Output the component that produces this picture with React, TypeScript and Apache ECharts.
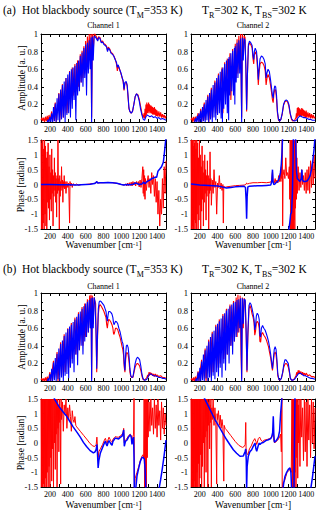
import React, { useEffect, useRef } from "react";
import * as echarts from "echarts";

const FONT = "'Liberation Serif', 'Times New Roman', serif";
const RED = "#ff0000";
const BLUE = "#0000ff";

// ---------- (a) amplitude, channel 1 ----------
const ampA1Red = [
  [100,0.02],[110,0.05],[120,0.01],[130,0.05],[140,0.0],[150,0.06],[160,0.01],[170,0.07],[180,0.0],[190,0.08],[200,0.02],[220,0.12],[230,0.0],[260,0.22],[270,0.0],[300,0.33],[310,0.02],[340,0.43],[350,0.05],[380,0.5],[390,0.1],[420,0.58],[430,0.2],[450,0.62],[460,0.3],[480,0.66],[490,0.35],[510,0.7],[520,0.4],[540,0.77],[550,0.45],[560,0.81],[570,0.5],[580,0.86],[590,0.55],[600,0.92],[610,0.6],[620,0.97],[630,0.65],[640,1.0],[650,0.7],[660,1.0],[667,0.05],[675,1.0],[685,0.8],[695,1.0],
  [705,1.0],[720,0.97],[735,0.93],[745,0.97],[760,0.96],[775,0.91],[790,0.92],[805,0.89],[820,0.88],[835,0.86],[845,0.81],[855,0.85],[870,0.83],[885,0.79],[900,0.78],[915,0.75],[930,0.72],[945,0.66],[955,0.58],[965,0.64],[980,0.6],[995,0.55],[1010,0.5],[1020,0.46],[1030,0.36],[1040,0.44],[1055,0.45],[1065,0.41],[1075,0.28],[1085,0.15],[1095,0.12],[1110,0.1],[1125,0.12],[1140,0.2],[1155,0.29],[1170,0.32],[1185,0.31],[1200,0.26],[1215,0.18],[1230,0.1],[1245,0.05],
  [1255,0.1],[1260,0.04],[1265,0.15],[1270,0.05],[1275,0.2],[1280,0.08],[1285,0.22],[1290,0.1],[1295,0.2],[1300,0.1],[1305,0.22],[1310,0.12],[1315,0.2],[1320,0.1],[1330,0.19],[1335,0.1],[1340,0.18],[1345,0.09],[1350,0.17],[1355,0.08],[1360,0.16],[1365,0.09],[1370,0.17],[1375,0.08],[1380,0.15],[1385,0.07],[1390,0.14],[1395,0.07],[1400,0.13],[1410,0.06],[1420,0.12],[1430,0.06],[1440,0.11],[1450,0.05],[1460,0.09],[1470,0.05],[1480,0.08],[1490,0.04],[1500,0.07],
];
const ampA1Blue = [
  [170,0.0],[180,0.03],[190,0.0],[200,0.06],[210,0.0],[220,0.1],[230,0.0],[240,0.17],[250,0.01],[260,0.21],[270,0.0],[280,0.27],[290,0.02],[300,0.32],[310,0.0],[320,0.37],[330,0.03],[340,0.42],[350,0.05],[360,0.46],[370,0.0],[380,0.5],[390,0.08],[400,0.54],[410,0.1],[420,0.57],[430,0.05],[440,0.6],[450,0.15],[460,0.62],[470,0.25],[480,0.64],[490,0.02],[500,0.67],[510,0.3],[520,0.7],[530,0.35],[540,0.75],[550,0.45],[560,0.79],[570,0.4],[580,0.84],[590,0.5],[600,0.88],[610,0.3],[620,0.9],[630,0.55],[640,0.93],[650,0.6],[660,0.96],[667,0.0],[675,0.97],[685,0.7],[695,0.97],
  [705,0.97],[720,0.95],[735,0.92],[745,0.96],[760,0.95],[775,0.9],[790,0.91],[805,0.88],[820,0.87],[835,0.85],[845,0.8],[855,0.84],[870,0.82],[885,0.78],[900,0.77],[915,0.75],[930,0.71],[945,0.68],[955,0.62],[965,0.65],[980,0.6],[995,0.56],[1010,0.5],[1020,0.47],[1030,0.37],[1040,0.45],[1055,0.46],[1065,0.42],[1075,0.3],[1085,0.16],[1095,0.12],[1110,0.1],[1125,0.12],[1140,0.2],[1155,0.29],[1170,0.32],[1185,0.3],[1200,0.24],[1215,0.15],[1230,0.08],[1245,0.03],[1260,0.02],[1275,0.06],[1290,0.08],[1305,0.07],[1320,0.06],[1340,0.07],[1360,0.05],[1380,0.06],[1400,0.04],[1420,0.05],[1440,0.03],[1460,0.04],[1480,0.03],[1500,0.02],
];

// ---------- (a) amplitude, channel 2 ----------
const ampA2Red = [
  [100,0.02],[110,0.05],[120,0.0],[130,0.06],[140,0.0],[150,0.06],[160,0.01],[180,0.1],[190,0.0],[210,0.15],[220,0.0],[250,0.22],[260,0.02],[290,0.31],[300,0.0],[330,0.39],[340,0.05],[370,0.47],[380,0.1],[410,0.55],[420,0.2],[450,0.62],[460,0.1],[480,0.68],[490,0.3],[510,0.72],[520,0.35],[540,0.78],[550,0.25],[570,0.83],[580,0.4],[600,0.89],[610,0.5],[620,0.94],[630,0.55],[640,0.98],[650,0.6],[660,1.0],[672,0.05],[680,1.0],[690,0.75],[700,0.98],
  [710,0.96],[720,0.6],[728,0.12],[736,0.5],[748,0.86],[760,0.9],[775,0.88],[790,0.84],[800,0.72],[808,0.66],[815,0.76],[825,0.8],[840,0.76],[850,0.62],[860,0.42],[868,0.55],[880,0.66],[895,0.68],[910,0.67],[925,0.64],[938,0.58],[948,0.42],[958,0.5],[970,0.54],[985,0.5],[998,0.42],[1010,0.33],[1020,0.25],[1028,0.22],[1036,0.32],[1046,0.37],[1056,0.36],[1066,0.26],[1076,0.1],[1088,0.02],[1100,0.01],[1115,0.03],[1130,0.09],[1145,0.19],[1160,0.23],[1175,0.24],[1190,0.23],[1205,0.18],[1220,0.09],[1235,0.03],[1250,0.01],[1270,0.02],[1285,0.05],
  [1290,0.1],[1295,0.04],[1300,0.16],[1305,0.06],[1310,0.17],[1315,0.07],[1320,0.16],[1325,0.06],[1330,0.15],[1335,0.07],[1340,0.14],[1345,0.06],[1350,0.16],[1355,0.07],[1360,0.15],[1365,0.07],[1370,0.14],[1375,0.06],[1380,0.13],[1385,0.06],[1390,0.12],[1395,0.05],[1400,0.13],[1410,0.05],[1420,0.11],[1430,0.05],[1440,0.1],[1450,0.04],[1460,0.09],[1470,0.04],[1480,0.08],[1490,0.04],[1500,0.06],
];
const ampA2Blue = [
  [140,0.0],[150,0.04],[160,0.0],[170,0.07],[180,0.0],[190,0.1],[200,0.0],[210,0.13],[220,0.0],[230,0.17],[240,0.01],[250,0.2],[260,0.0],[270,0.25],[280,0.02],[290,0.29],[300,0.0],[310,0.33],[320,0.03],[330,0.37],[340,0.0],[350,0.42],[360,0.05],[370,0.45],[380,0.02],[390,0.5],[400,0.08],[410,0.53],[420,0.1],[430,0.57],[440,0.04],[450,0.6],[455,0.0],[460,0.62],[470,0.15],[480,0.66],[490,0.2],[500,0.7],[510,0.1],[520,0.72],[525,0.02],[530,0.74],[540,0.3],[550,0.78],[560,0.35],[570,0.81],[580,0.3],[590,0.84],[595,0.2],[600,0.86],[610,0.45],[620,0.9],[630,0.5],[640,0.93],[650,0.55],[660,0.95],[672,0.0],[680,0.96],[690,0.7],[700,0.95],
  [710,0.93],[720,0.6],[728,0.14],[736,0.5],[748,0.88],[760,0.92],[775,0.9],[790,0.87],[800,0.75],[808,0.71],[815,0.8],[825,0.84],[840,0.8],[850,0.68],[860,0.48],[868,0.6],[880,0.72],[895,0.75],[910,0.74],[925,0.71],[938,0.66],[948,0.5],[958,0.56],[970,0.6],[985,0.57],[998,0.48],[1010,0.38],[1020,0.3],[1028,0.27],[1036,0.36],[1046,0.41],[1056,0.4],[1066,0.3],[1076,0.12],[1088,0.03],[1100,0.01],[1115,0.03],[1130,0.1],[1145,0.2],[1160,0.24],[1175,0.25],[1190,0.24],[1205,0.2],[1220,0.1],[1235,0.04],[1250,0.02],[1270,0.01],[1290,0.02],[1310,0.05],[1330,0.07],[1350,0.06],[1370,0.05],[1390,0.05],[1410,0.04],[1430,0.03],[1450,0.03],[1470,0.02],[1500,0.02],
];

// ---------- (a) phase, channel 1 ----------
const phaseA1Red = [
  [100,1.5],[105,-1.5],[110,1.4],[115,-1.5],[120,1.5],[125,-1.3],[130,1.2],[135,-1.5],[140,1.5],[145,-1.0],[150,1.3],[155,-1.4],[160,0.9],[165,-1.5],[170,1.1],[175,-0.6],[180,1.4],[185,-0.8],[190,0.6],[195,-1.2],[200,1.0],[205,-0.5],[210,0.4],[215,-0.9],[220,1.2],[225,-0.3],[230,0.5],[235,-1.4],[240,0.3],[245,-0.4],[250,0.9],[255,-0.2],[260,0.4],[265,-0.6],[270,0.2],[275,-1.1],[280,0.3],[285,-0.3],[290,1.5],[295,-0.2],[300,0.2],[305,-1.5],[310,0.3],[315,-0.4],[320,0.1],[325,-0.2],[330,0.6],[335,-0.1],[340,0.15],[345,-0.6],[350,0.1],[355,-0.1],[360,0.3],[365,-0.15],[370,0.1],[380,-0.3],[390,0.1],[400,-0.1],[410,0.05],[420,-1.3],[425,0.1],[430,-0.05],[440,0.05],[450,-0.1],[460,0.03],[480,-0.03],[500,0.02],[520,-0.03],[550,0.0],[600,0.0],[650,0.02],[700,0.04],[715,0.06],[725,0.1],[735,0.05],[760,0.06],[800,0.06],[850,0.07],[900,0.06],[950,0.04],[1000,0.0],[1030,-0.02],[1050,0.02],[1060,-0.05],[1070,0.05],[1080,-0.04],[1090,0.06],[1100,-0.03],[1110,0.08],[1120,-0.05],[1130,0.1],[1140,-0.02],[1150,0.08],[1160,-0.05],[1170,0.1],[1180,0.0],[1190,0.1],[1200,-0.08],[1210,0.15],[1220,-0.1],[1230,0.2],[1240,0.6],[1245,-0.3],[1250,0.5],[1255,-0.4],[1260,0.3],[1265,-0.5],[1270,0.2],[1280,-0.2],[1290,0.1],[1300,0.3],[1310,-0.1],[1320,0.2],[1330,-0.3],[1340,0.4],[1350,0.0],[1360,0.3],[1370,-0.4],[1380,0.2],[1390,-0.6],[1400,0.1],[1410,-1.0],[1420,-0.2],[1430,-1.4],[1440,-0.5],[1450,-1.0],[1460,0.2],[1470,-0.8],[1480,0.6],[1490,-0.3],[1500,0.8],
];
const phaseA1Blue = [
  [100,0.0],[200,0.0],[300,-0.01],[400,-0.01],[500,-0.02],[600,0.0],[650,0.01],[700,0.03],[715,0.06],[725,0.1],[735,0.05],[760,0.06],[800,0.06],[850,0.07],[900,0.06],[950,0.04],[1000,0.0],[1030,-0.02],[1060,0.0],[1100,-0.01],[1130,0.01],[1160,0.05],[1180,0.03],[1200,0.0],[1230,0.02],[1250,0.08],[1265,0.02],[1280,0.08],[1300,0.12],[1320,0.15],[1340,0.2],[1360,0.22],[1380,0.25],[1395,0.24],[1410,0.45],[1430,0.52],[1450,0.6],[1470,0.75],[1480,1.0],[1490,1.3],[1500,1.6],
];

// ---------- (a) phase, channel 2 ----------
const phaseA2Red = [
  [100,1.5],[104,-1.5],[108,1.5],[112,-1.4],[116,1.5],[120,-1.5],[124,1.3],[128,-1.5],[132,1.5],[136,-1.2],[140,1.4],[144,-1.5],[148,1.5],[152,-1.3],[156,1.2],[160,-1.5],[165,1.5],[170,-1.0],[175,1.4],[180,-1.5],[185,0.9],[190,-1.2],[195,1.5],[200,-0.7],[205,1.0],[210,-1.5],[215,0.6],[220,-0.9],[225,1.3],[230,-0.5],[235,0.8],[240,-1.4],[245,0.4],[250,-0.6],[255,1.0],[260,-0.3],[265,0.5],[270,-1.2],[275,0.3],[280,-0.4],[285,0.8],[290,-0.2],[295,0.3],[300,-1.5],[305,0.2],[310,-0.3],[315,1.1],[320,-0.2],[325,0.2],[330,-0.7],[340,0.15],[350,-0.3],[360,0.5],[370,-0.1],[380,0.1],[390,-1.0],[400,0.05],[410,-0.1],[420,0.3],[430,-0.15],[440,0.05],[450,-0.2],[460,0.0],[465,-1.3],[470,-0.05],[480,-0.1],[500,-0.08],[550,-0.06],[600,-0.04],[650,-0.03],[700,-0.02],[720,0.0],[728,0.05],[740,0.02],[760,0.04],[800,0.06],[850,0.06],[900,0.07],[950,0.06],[1000,0.08],[1010,0.15],[1020,0.45],[1026,0.1],[1040,0.05],[1050,0.2],[1060,0.05],[1070,0.15],[1080,0.05],[1090,0.3],[1100,0.1],[1110,0.4],[1115,0.1],[1120,0.6],[1125,0.2],[1130,1.5],[1135,-1.4],[1140,0.3],[1150,0.5],[1160,0.2],[1170,0.9],[1180,0.3],[1190,0.4],[1200,0.2],[1210,0.6],[1215,-0.5],[1220,1.5],[1224,-1.5],[1228,1.5],[1232,-1.5],[1236,1.5],[1240,-1.5],[1244,1.5],[1248,-1.5],[1252,1.5],[1256,-1.5],[1260,1.5],[1264,-1.2],[1268,1.5],[1272,-1.5],[1276,1.2],[1280,-0.8],[1285,1.5],[1290,-0.5],[1295,0.9],[1300,-0.3],[1310,0.6],[1320,-0.2],[1330,0.4],[1340,-0.1],[1350,0.5],[1360,0.0],[1370,0.3],[1380,-0.2],[1390,0.4],[1400,-0.3],[1410,0.5],[1420,-0.2],[1430,0.6],[1440,-0.3],[1450,0.8],[1460,-0.1],[1470,0.7],[1480,0.0],[1490,1.0],[1500,0.2],
];
const phaseA2Blue = [
  [100,0.02],[150,0.0],[200,-0.02],[300,-0.03],[400,-0.05],[450,-0.08],[500,-0.12],[550,-0.1],[600,-0.08],[650,-0.07],[700,-0.06],[715,-0.1],[722,-0.5],[728,-1.15],[734,-0.4],[742,-0.08],[760,-0.06],[800,-0.05],[850,-0.04],[900,-0.04],[950,-0.03],[1000,-0.02],[1012,0.1],[1020,0.5],[1026,0.1],[1035,0.0],[1050,0.02],[1065,0.08],[1080,0.1],[1095,0.2],[1110,0.4],[1120,0.7],[1128,1.1],[1134,1.6],[1140,null],[1200,-1.6],[1215,-1.3],[1225,-1.0],[1235,-0.95],[1245,-0.3],[1252,0.8],[1256,1.6],[1260,null],[1280,1.6],[1290,0.5],[1300,0.2],[1315,0.15],[1330,0.1],[1345,0.2],[1352,0.5],[1358,0.15],[1370,0.1],[1390,0.1],[1410,0.12],[1430,0.2],[1445,0.3],[1460,0.5],[1475,0.8],[1490,1.2],[1500,1.6],
];

// ---------- (b) amplitude, channel 1 ----------
const ampB1Red = [
  [100,0.01],[110,0.03],[120,0.0],[130,0.03],[140,0.0],[150,0.04],[160,0.0],[170,0.05],[180,0.0],[200,0.1],[210,0.0],[240,0.23],[250,0.02],[280,0.33],[290,0.0],[320,0.44],[330,0.05],[360,0.53],[370,0.1],[400,0.6],[410,0.15],[440,0.66],[450,0.25],[480,0.72],[490,0.3],[520,0.78],[530,0.35],[560,0.84],[570,0.4],[590,0.88],[600,0.5],[620,0.93],[630,0.55],[645,0.97],[655,0.6],[660,0.98],[667,0.02],[675,0.97],[685,0.65],[695,0.95],[705,0.9],
  [712,0.88],[718,0.45],[724,0.1],[732,0.45],[742,0.76],[752,0.85],[762,0.87],[775,0.85],[790,0.82],[805,0.79],[818,0.75],[828,0.72],[836,0.64],[843,0.6],[850,0.66],[858,0.7],[870,0.69],[882,0.67],[895,0.64],[905,0.6],[912,0.54],[918,0.53],[926,0.56],[935,0.6],[948,0.6],[960,0.58],[972,0.54],[985,0.5],[998,0.44],[1008,0.39],[1016,0.36],[1024,0.3],[1032,0.16],[1040,0.1],[1048,0.24],[1056,0.32],[1066,0.32],[1076,0.3],[1086,0.22],[1096,0.1],[1106,0.05],[1118,0.04],[1130,0.04],[1142,0.1],[1155,0.16],[1168,0.19],[1180,0.2],[1192,0.19],[1205,0.17],[1218,0.12],[1230,0.06],[1242,0.02],[1256,0.01],[1270,0.02],[1285,0.04],[1295,0.07],[1300,0.04],[1310,0.1],[1315,0.06],[1320,0.1],[1330,0.07],[1340,0.09],[1350,0.06],[1360,0.08],[1370,0.05],[1380,0.08],[1390,0.05],[1400,0.07],[1420,0.05],[1440,0.06],[1460,0.04],[1480,0.04],[1500,0.03],
];
const ampB1Blue = [
  [170,0.0],[180,0.03],[190,0.0],[200,0.08],[210,0.0],[220,0.14],[230,0.0],[240,0.21],[250,0.01],[260,0.26],[270,0.0],[280,0.31],[290,0.02],[300,0.37],[310,0.0],[320,0.42],[330,0.04],[340,0.46],[350,0.0],[360,0.51],[370,0.06],[380,0.55],[390,0.08],[400,0.59],[410,0.03],[420,0.62],[430,0.15],[440,0.64],[450,0.2],[460,0.67],[470,0.1],[480,0.7],[490,0.3],[500,0.73],[510,0.18],[520,0.76],[530,0.35],[540,0.79],[550,0.4],[560,0.82],[570,0.3],[580,0.85],[590,0.45],[600,0.88],[610,0.5],[620,0.9],[630,0.55],[640,0.92],[650,0.6],[660,0.94],[667,0.0],[675,0.95],[685,0.6],[695,0.95],[705,0.9],
  [712,0.9],[718,0.5],[724,0.14],[732,0.5],[742,0.82],[752,0.9],[762,0.91],[775,0.9],[790,0.88],[805,0.86],[818,0.82],[828,0.79],[836,0.72],[843,0.68],[850,0.74],[858,0.79],[870,0.79],[882,0.78],[895,0.76],[905,0.72],[912,0.66],[918,0.64],[926,0.66],[935,0.68],[948,0.67],[960,0.65],[972,0.6],[985,0.56],[998,0.5],[1008,0.45],[1016,0.43],[1024,0.38],[1032,0.2],[1040,0.12],[1048,0.3],[1056,0.4],[1066,0.41],[1076,0.38],[1086,0.28],[1096,0.14],[1106,0.06],[1118,0.04],[1130,0.05],[1142,0.12],[1155,0.2],[1168,0.25],[1180,0.27],[1192,0.26],[1205,0.24],[1218,0.17],[1230,0.08],[1242,0.03],[1256,0.01],[1270,0.01],[1285,0.02],[1300,0.05],[1315,0.08],[1330,0.08],[1345,0.07],[1360,0.06],[1380,0.06],[1400,0.05],[1420,0.04],[1440,0.04],[1460,0.03],[1480,0.03],[1500,0.02],
];

// ---------- (b) amplitude, channel 2 ----------
const ampB2Red = [
  [100,0.01],[110,0.03],[120,0.0],[130,0.04],[140,0.0],[150,0.05],[160,0.0],[180,0.11],[190,0.0],[220,0.24],[230,0.02],[260,0.37],[270,0.0],[300,0.47],[310,0.05],[340,0.56],[350,0.1],[380,0.64],[390,0.15],[420,0.7],[430,0.2],[460,0.76],[470,0.25],[500,0.82],[510,0.3],[540,0.87],[550,0.4],[580,0.91],[590,0.45],[610,0.95],[620,0.5],[630,0.98],[640,0.55],[655,0.97],[665,0.3],[672,0.02],[680,0.95],[690,0.6],[700,0.94],[712,0.9],
  [722,0.55],[732,0.1],[742,0.5],[755,0.82],[766,0.86],[778,0.82],[790,0.76],[802,0.72],[812,0.66],[820,0.52],[828,0.56],[838,0.66],[848,0.68],[860,0.66],[870,0.6],[878,0.45],[886,0.44],[895,0.53],[908,0.55],[922,0.52],[936,0.5],[950,0.47],[962,0.43],[975,0.39],[988,0.32],[1000,0.26],[1010,0.18],[1020,0.12],[1030,0.22],[1040,0.31],[1050,0.33],[1060,0.3],[1070,0.2],[1080,0.06],[1092,0.02],[1105,0.01],[1120,0.03],[1135,0.09],[1148,0.16],[1160,0.19],[1172,0.2],[1185,0.19],[1198,0.16],[1210,0.1],[1222,0.03],[1236,0.01],[1252,0.01],[1270,0.03],[1285,0.06],[1295,0.1],[1300,0.06],[1310,0.12],[1315,0.08],[1320,0.12],[1330,0.08],[1340,0.11],[1350,0.07],[1360,0.1],[1370,0.07],[1380,0.09],[1390,0.06],[1400,0.09],[1420,0.06],[1440,0.07],[1460,0.05],[1480,0.05],[1500,0.04],
];
const ampB2Blue = [
  [150,0.0],[160,0.03],[170,0.0],[180,0.1],[190,0.0],[200,0.15],[210,0.0],[220,0.22],[230,0.01],[240,0.3],[250,0.0],[260,0.35],[270,0.03],[280,0.4],[290,0.0],[300,0.45],[310,0.04],[320,0.5],[330,0.0],[340,0.54],[350,0.06],[360,0.57],[370,0.02],[380,0.62],[390,0.1],[400,0.65],[410,0.05],[420,0.68],[430,0.15],[440,0.71],[450,0.04],[460,0.74],[470,0.2],[480,0.77],[490,0.12],[500,0.8],[510,0.3],[520,0.82],[530,0.2],[540,0.85],[550,0.4],[560,0.87],[570,0.3],[580,0.89],[590,0.45],[600,0.9],[610,0.5],[620,0.92],[630,0.55],[640,0.93],[650,0.6],[660,0.94],[672,0.0],[680,0.94],[690,0.65],[700,0.93],[712,0.92],
  [722,0.6],[732,0.12],[742,0.55],[755,0.86],[766,0.89],[778,0.87],[790,0.82],[802,0.76],[812,0.7],[820,0.58],[828,0.62],[838,0.74],[848,0.77],[860,0.75],[870,0.7],[878,0.52],[886,0.5],[895,0.6],[908,0.63],[922,0.6],[936,0.58],[950,0.54],[962,0.5],[975,0.45],[988,0.38],[1000,0.3],[1010,0.22],[1020,0.14],[1030,0.25],[1040,0.36],[1050,0.39],[1060,0.36],[1070,0.25],[1080,0.08],[1092,0.02],[1105,0.01],[1120,0.03],[1135,0.1],[1148,0.19],[1160,0.24],[1172,0.24],[1185,0.22],[1198,0.2],[1210,0.12],[1222,0.03],[1236,0.01],[1252,0.01],[1270,0.02],[1290,0.05],[1310,0.08],[1330,0.09],[1350,0.08],[1370,0.06],[1390,0.06],[1410,0.05],[1430,0.04],[1450,0.03],[1470,0.03],[1500,0.02],
];

// ---------- (b) phase, channel 1 ----------
const phaseB1Red = [
  [100,1.5],[104,-1.5],[108,1.5],[112,-1.5],[116,1.5],[120,-1.5],[124,1.5],[128,-1.4],[132,1.5],[136,-1.5],[140,1.5],[144,-1.5],[148,1.5],[152,-1.2],[156,1.5],[160,-1.5],[165,1.5],[170,-1.0],[175,1.5],[180,-1.5],[185,1.5],[190,-0.8],[195,1.5],[200,-1.5],[205,1.5],[210,-0.5],[215,1.5],[220,-1.3],[225,1.5],[230,-0.2],[235,1.5],[240,-1.5],[245,1.5],[250,0.0],[255,1.5],[260,-0.9],[265,1.5],[270,0.3],[275,1.5],[280,-1.5],[285,1.5],[290,0.5],[295,1.3],[300,-0.3],[305,1.5],[310,0.7],[315,1.2],[320,-1.4],[325,1.5],[330,0.8],[340,1.4],[350,0.4],[360,1.3],[370,1.0],[380,1.5],[390,0.5],[400,1.2],[410,0.8],[420,1.3],[430,0.9],[440,0.4],[450,1.1],[460,0.8],[470,0.7],[480,0.9],[490,0.6],[500,0.55],[540,0.4],[580,0.25],[620,0.1],[650,-0.02],[680,-0.1],[700,-0.12],[718,-0.05],[726,0.2],[732,-0.1],[740,-0.5],[748,-0.3],[765,-0.2],[790,-0.05],[810,0.1],[821,0.16],[832,0.05],[840,0.0],[850,0.1],[862,0.2],[877,0.1],[888,0.05],[896,0.02],[905,0.12],[920,0.18],[933,0.22],[950,0.2],[970,0.2],[990,0.25],[1007,0.28],[1020,0.38],[1026,0.5],[1033,0.0],[1045,0.1],[1063,0.15],[1080,0.25],[1100,0.3],[1110,0.25],[1119,0.05],[1128,0.2],[1137,0.3],[1142,1.6],[1146,-1.6],[1155,-1.2],[1175,-1.0],[1195,-0.8],[1212,-0.6],[1230,-0.45],[1242,-0.4],[1250,-0.5],[1255,1.5],[1260,-1.5],[1265,1.5],[1270,-1.5],[1275,1.5],[1280,-1.5],[1285,1.5],[1290,-0.5],[1295,1.5],[1300,0.2],[1310,1.4],[1320,0.4],[1330,1.5],[1340,0.6],[1350,1.2],[1360,0.3],[1370,1.5],[1380,0.5],[1390,1.3],[1400,0.2],[1410,1.5],[1420,0.6],[1430,1.1],[1440,0.1],[1450,1.4],[1460,0.5],[1470,1.2],[1480,0.3],[1490,1.0],[1500,0.6],
];
const phaseB1Blue = [
  [200,2.2],[238,1.6],[260,1.45],[300,1.25],[350,1.05],[388,0.91],[420,0.75],[460,0.55],[500,0.38],[540,0.2],[575,0.02],[610,-0.12],[650,-0.26],[687,-0.34],[705,-0.3],[718,-0.22],[726,-0.05],[732,-0.3],[740,-0.85],[748,-0.6],[765,-0.34],[790,-0.15],[810,0.0],[821,0.06],[832,-0.05],[840,-0.1],[850,0.0],[862,0.08],[877,0.0],[888,-0.05],[896,-0.08],[905,0.05],[920,0.12],[933,0.17],[950,0.15],[970,0.14],[990,0.2],[1007,0.23],[1020,0.35],[1026,0.45],[1033,-0.11],[1045,0.05],[1063,0.1],[1080,0.2],[1100,0.28],[1110,0.22],[1119,-0.05],[1128,0.1],[1137,0.2],[1142,-0.5],[1145,-1.6],[1160,-1.6],[1175,-1.13],[1195,-0.85],[1212,-0.63],[1230,-0.5],[1242,-0.48],[1257,-0.55],[1266,-0.9],[1275,-1.6],[1290,null],[1420,-1.6],[1440,-1.25],[1460,-0.85],[1480,-0.4],[1500,0.1],
];

// ---------- (b) phase, channel 2 ----------
const phaseB2Red = [
  [100,1.5],[104,-1.5],[108,1.5],[112,-1.5],[116,1.5],[120,-1.5],[124,1.5],[128,-1.5],[132,1.5],[136,-1.5],[140,1.5],[144,-1.3],[148,1.5],[152,-1.5],[156,1.5],[160,-1.5],[164,1.5],[168,-1.0],[172,1.5],[176,-1.5],[180,1.5],[184,-0.7],[188,1.5],[192,-1.5],[196,1.5],[200,-1.2],[205,1.5],[210,-0.4],[215,1.5],[220,-1.5],[225,1.5],[230,-0.8],[235,1.5],[240,0.0],[245,1.5],[250,-1.5],[255,1.5],[260,0.2],[265,1.5],[270,-1.0],[275,1.5],[280,0.4],[285,1.5],[290,-1.5],[295,1.4],[300,0.6],[305,1.5],[310,-0.2],[315,1.3],[320,0.7],[325,1.5],[330,-1.5],[335,1.2],[340,0.8],[350,1.5],[360,0.6],[370,1.2],[380,0.7],[390,-1.4],[395,1.0],[400,0.8],[410,1.1],[420,0.6],[430,0.95],[440,0.5],[450,0.8],[460,0.55],[470,-1.3],[475,0.6],[485,0.5],[500,0.45],[550,0.25],[600,0.05],[640,-0.08],[680,-0.15],[700,-0.12],[712,-0.05],[718,0.7],[722,-0.2],[730,-0.35],[742,-0.4],[760,-0.2],[780,-0.1],[800,0.05],[820,0.15],[833,0.05],[842,-0.05],[860,0.15],[875,0.2],[890,0.1],[905,0.05],[930,0.1],[960,0.12],[990,0.15],[1005,0.18],[1020,0.25],[1029,0.5],[1035,0.1],[1045,0.0],[1060,0.05],[1080,0.1],[1100,0.2],[1112,0.3],[1120,-0.3],[1126,1.6],[1130,-1.6],[1140,-1.35],[1155,-1.3],[1170,-1.15],[1185,-1.0],[1200,-0.95],[1220,-0.9],[1232,-1.0],[1240,1.5],[1244,-1.5],[1248,1.5],[1252,-1.5],[1256,1.5],[1260,-1.5],[1264,1.5],[1268,-1.5],[1272,1.5],[1276,-1.0],[1280,1.5],[1285,-1.5],[1290,1.5],[1295,-0.5],[1300,1.5],[1305,-1.2],[1310,1.3],[1315,0.0],[1320,1.5],[1330,-0.8],[1340,1.5],[1350,0.2],[1360,1.2],[1370,-0.6],[1380,1.5],[1390,-0.3],[1400,1.4],[1410,-0.8],[1420,1.5],[1430,0.1],[1440,1.3],[1450,-0.5],[1460,1.5],[1470,0.0],[1480,1.4],[1490,-0.2],[1500,1.2],
];
const phaseB2Blue = [
  [200,2.0],[239,1.6],[260,1.48],[315,1.14],[370,0.8],[427,0.51],[465,0.3],[503,0.11],[540,-0.06],[578,-0.23],[615,-0.35],[653,-0.45],[691,-0.44],[710,-0.3],[718,-0.2],[724,-0.6],[728,-1.6],[734,-0.8],[747,-0.45],[765,-0.3],[785,-0.23],[805,-0.1],[823,0.0],[833,-0.2],[842,-0.28],[858,-0.1],[870,0.0],[879,-0.05],[895,0.0],[917,0.02],[945,0.08],[973,0.11],[1000,0.15],[1010,0.2],[1022,0.35],[1029,0.91],[1035,0.3],[1041,0.03],[1055,0.06],[1067,0.1],[1086,0.2],[1100,0.4],[1112,1.02],[1120,1.3],[1127,1.6],[1132,null],[1138,-1.6],[1145,-1.4],[1161,-1.14],[1180,-1.0],[1199,-0.9],[1218,-0.85],[1228,-1.0],[1236,-1.6],[1250,null],[1262,-1.6],[1268,0.0],[1274,1.6],[1280,null],[1450,-1.6],[1470,-1.2],[1500,-0.45],
];

const xTickLabels = [200, 400, 600, 800, 1000, 1200, 1400];

const grids = [
  { left: 41, top: 34, width: 125, height: 88 },
  { left: 191, top: 34, width: 124, height: 88 },
  { left: 41, top: 140, width: 125, height: 89 },
  { left: 191, top: 140, width: 124, height: 89 },
  { left: 41, top: 293, width: 125, height: 88 },
  { left: 191, top: 293, width: 124, height: 88 },
  { left: 41, top: 399, width: 125, height: 88 },
  { left: 191, top: 399, width: 124, height: 88 },
];

const panels = [
  { kind: "amp", red: ampA1Red, blue: ampA1Blue },
  { kind: "amp", red: ampA2Red, blue: ampA2Blue },
  { kind: "phase", red: phaseA1Red, blue: phaseA1Blue },
  { kind: "phase", red: phaseA2Red, blue: phaseA2Blue },
  { kind: "amp", red: ampB1Red, blue: ampB1Blue },
  { kind: "amp", red: ampB2Red, blue: ampB2Blue },
  { kind: "phase", red: phaseB1Red, blue: phaseB1Blue },
  { kind: "phase", red: phaseB2Red, blue: phaseB2Blue },
];

function buildOption() {
  const lab = { fontFamily: FONT, fontSize: 8, color: "#000" };
  const axisLine = { show: true, onZero: false, lineStyle: { color: "#000", width: 1 } };
  const xAxis: any[] = [];
  const yAxis: any[] = [];
  const series: any[] = [];
  panels.forEach((p, i) => {
    const base = {
      type: "value", gridIndex: i, min: 100, max: 1500, interval: 100,
      axisLine, splitLine: { show: false },
      axisTick: { show: true, inside: true, length: 3, lineStyle: { color: "#000" } },
    };
    xAxis.push({
      ...base, position: "bottom",
      axisLabel: {
        ...lab, margin: 3,
        formatter: (v: number) => (xTickLabels.includes(v) ? String(v) : ""),
      },
    });
    xAxis.push({ ...base, position: "top", axisLabel: { show: false } });
    const yr = p.kind === "amp"
      ? { min: 0, max: 1, interval: 0.2 }
      : { min: -1.5, max: 1.5, interval: 0.5 };
    const ybase = {
      type: "value", gridIndex: i, ...yr, axisLine, splitLine: { show: false },
      axisTick: { show: true, inside: true, length: 3, lineStyle: { color: "#000" } },
      minorTick: { show: true, splitNumber: 2, length: 2, lineStyle: { color: "#000" } },
      minorSplitLine: { show: false },
    };
    yAxis.push({ ...ybase, position: "left", axisLabel: { ...lab, fontSize: 8.5, margin: 3 } });
    yAxis.push({ ...ybase, position: "right", axisLabel: { show: false } });
    series.push({
      type: "line", xAxisIndex: 2 * i, yAxisIndex: 2 * i, data: p.red,
      symbol: "none", showSymbol: false, clip: true, silent: true,
      lineStyle: { color: RED, width: p.kind === "phase" ? 1 : 1.1 },
    });
    series.push({
      type: "line", xAxisIndex: 2 * i, yAxisIndex: 2 * i, data: p.blue,
      symbol: "none", showSymbol: false, clip: true, silent: true,
      lineStyle: { color: BLUE, width: p.kind === "phase" ? 1.5 : 1.1 },
    });
  });

  const titleRich = {
    n: { fontFamily: FONT, fontSize: 11.5, lineHeight: 18, fill: "#000" },
    s: { fontFamily: FONT, fontSize: 8, lineHeight: 8, verticalAlign: "bottom", fill: "#000" },
  };
  const supRich = {
    n: { fontFamily: FONT, fontSize: 9.5, lineHeight: 11, fill: "#000" },
    u: { fontFamily: FONT, fontSize: 6.5, lineHeight: 6.5, verticalAlign: "top", fill: "#000" },
  };
  const txt = (x: number, y: number, text: string, extra: any = {}) => ({
    type: "text", x, y, silent: true,
    style: { text, fontFamily: FONT, fontSize: 10, fill: "#000", align: "center", verticalAlign: "middle", ...extra },
  });
  const graphic: any[] = [];
  [
    { y: 10, tag: "(a)", chY: 25, ampY: 78, phY: 185, wnY: 245 },
    { y: 269, tag: "(b)", chY: 286, ampY: 337, phY: 443, wnY: 505 },
  ].forEach((r) => {
    graphic.push(txt(3, r.y, `{n|${r.tag}}`, { align: "left", rich: titleRich }));
    graphic.push(txt(22, r.y, "{n|Hot blackbody source (T}{s|M}{n|=353 K)}", { align: "left", rich: titleRich }));
    graphic.push(txt(202, r.y, "{n|T}{s|R}{n|=302 K, T}{s|BS}{n|=302 K}", { align: "left", rich: titleRich }));
    graphic.push(txt(103.5, r.chY, "Channel 1", { fontSize: 8 }));
    graphic.push(txt(253, r.chY, "Channel 2", { fontSize: 8 }));
    graphic.push({ ...txt(22, r.ampY, "Amplitude [a. u.]", { fontSize: 9.5 }), rotation: Math.PI / 2 });
    graphic.push({ ...txt(21, r.phY, "Phase [radian]", { fontSize: 9.5 }), rotation: Math.PI / 2 });
    graphic.push(txt(103.5, r.wnY, "{n|Wavenumber [cm}{u|-1}{n|]}", { rich: supRich }));
    graphic.push(txt(253, r.wnY, "{n|Wavenumber [cm}{u|-1}{n|]}", { rich: supRich }));
  });

  return {
    animation: false,
    backgroundColor: "#fff",
    grid: grids.map((g) => ({ ...g, containLabel: false })),
    xAxis, yAxis, series, graphic,
  };
}

export default function App() {
  const ref = useRef<HTMLDivElement>(null);
  useEffect(() => {
    if (!ref.current) return;
    const chart = echarts.init(ref.current, undefined, { renderer: "svg" });
    chart.setOption(buildOption() as any);
    return () => chart.dispose();
  }, []);
  return (
    <div
      ref={ref}
      style={{ position: "absolute", left: 0, top: 0, width: 320, height: 512, background: "#fff" }}
    />
  );
}
